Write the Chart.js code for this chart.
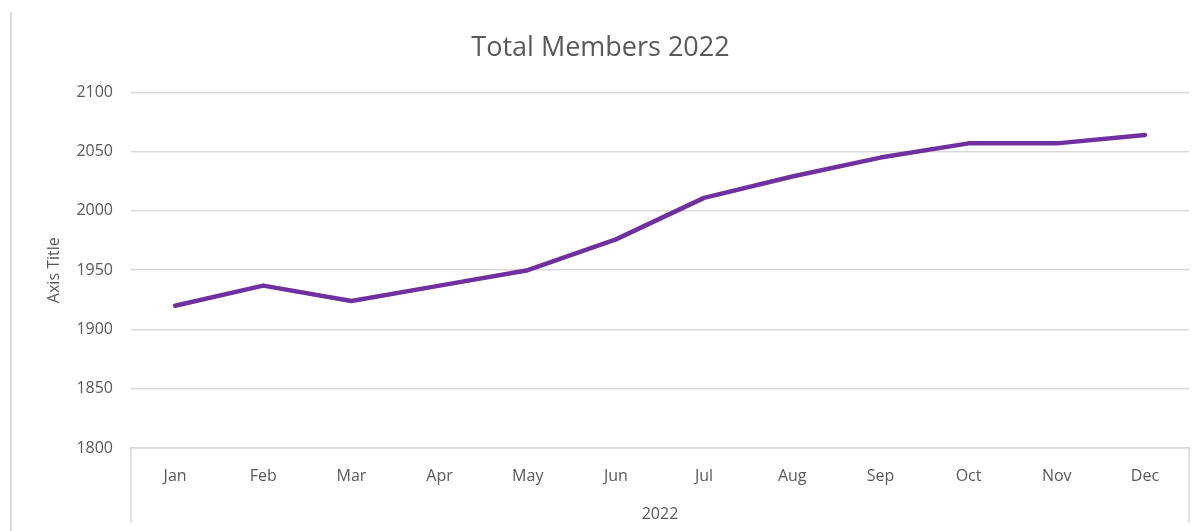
<!DOCTYPE html>
<html>
<head>
    <title>Total Members 2022</title>
    <script src="https://cdn.jsdelivr.net/npm/chart.js"></script>
    <style>
        html, body { margin: 0; padding: 0; background: #fff; }
        .wrap { position: relative; width: 1202px; height: 531px; }
        .edge { position: absolute; left: 10px; top: 12px; bottom: 0; border-left: 2px solid #d9d9d9; }
    </style>
</head>
<body>
<div class="wrap">
    <div class="edge"></div>
    <canvas id="membersChart"></canvas>
</div>

<script>
    const months = ['Jan', 'Feb', 'Mar', 'Apr', 'May', 'Jun', 'Jul', 'Aug', 'Sep', 'Oct', 'Nov', 'Dec'];
    const members = [1920, 1937, 1924, 1937, 1950, 1976, 2011, 2029, 2045, 2057, 2057, 2064];
    const yearLabel = '2022';
    const chartTitle = 'Total Members 2022';

    const textColor = '#595959';
    const gridColor = '#d9d9d9';
    const font = "'Open Sans', sans-serif";

    // 画分类轴两侧的竖线（类似Excel的多级分类框）
    const axisBox = {
        id: 'axisBox',
        afterDraw(chart) {
            const { ctx, chartArea } = chart;
            ctx.save();
            ctx.strokeStyle = gridColor;
            ctx.lineWidth = 1.5;
            ctx.beginPath();
            [chartArea.left, chartArea.right].forEach(x => {
                ctx.moveTo(x, chartArea.bottom);
                ctx.lineTo(x, chart.height - 8);
            });
            ctx.stroke();
            ctx.restore();
        }
    };

    new Chart(document.getElementById('membersChart'), {
        type: 'line',
        data: {
            labels: months,
            datasets: [{
                label: 'Members',
                data: members,
                borderColor: '#7030a0',
                borderWidth: 4.5,
                borderCapStyle: 'round',
                borderJoinStyle: 'round',
                pointRadius: 0,
                tension: 0
            }]
        },
        options: {
            responsive: true,
            maintainAspectRatio: false,
            animation: false,
            layout: { padding: { left: 12, right: 13, top: 0, bottom: 0 } },
            plugins: {
                legend: { display: false },
                tooltip: { enabled: false },
                title: {
                    display: true,
                    text: chartTitle,
                    color: textColor,
                    font: { family: font, size: 27, weight: 'normal' },
                    padding: { top: 32, bottom: 28 }
                }
            },
            scales: {
                x: {
                    offset: true,
                    grid: { display: false, drawTicks: false },
                    border: { display: true, color: gridColor, width: 1.5 },
                    ticks: { color: textColor, font: { family: font, size: 16 }, padding: 19 },
                    title: {
                        display: true,
                        text: yearLabel,
                        color: textColor,
                        font: { family: font, size: 16 },
                        padding: { top: 0, bottom: 7 }
                    },
                    afterFit: scale => { scale.height = 83; }
                },
                y: {
                    min: 1800,
                    max: 2100,
                    ticks: {
                        stepSize: 50,
                        color: textColor,
                        font: { family: font, size: 16 },
                        padding: 18,
                        callback: value => String(value)
                    },
                    grid: { color: gridColor, lineWidth: 1.5, drawTicks: false },
                    border: { display: false },
                    title: {
                        display: true,
                        text: 'Axis Title',
                        color: textColor,
                        font: { family: font, size: 16 },
                        padding: { top: 33, bottom: 0 }
                    },
                    afterFit: scale => { scale.width = 119; }
                }
            }
        },
        plugins: [axisBox]
    });
</script>
</body>
</html>
